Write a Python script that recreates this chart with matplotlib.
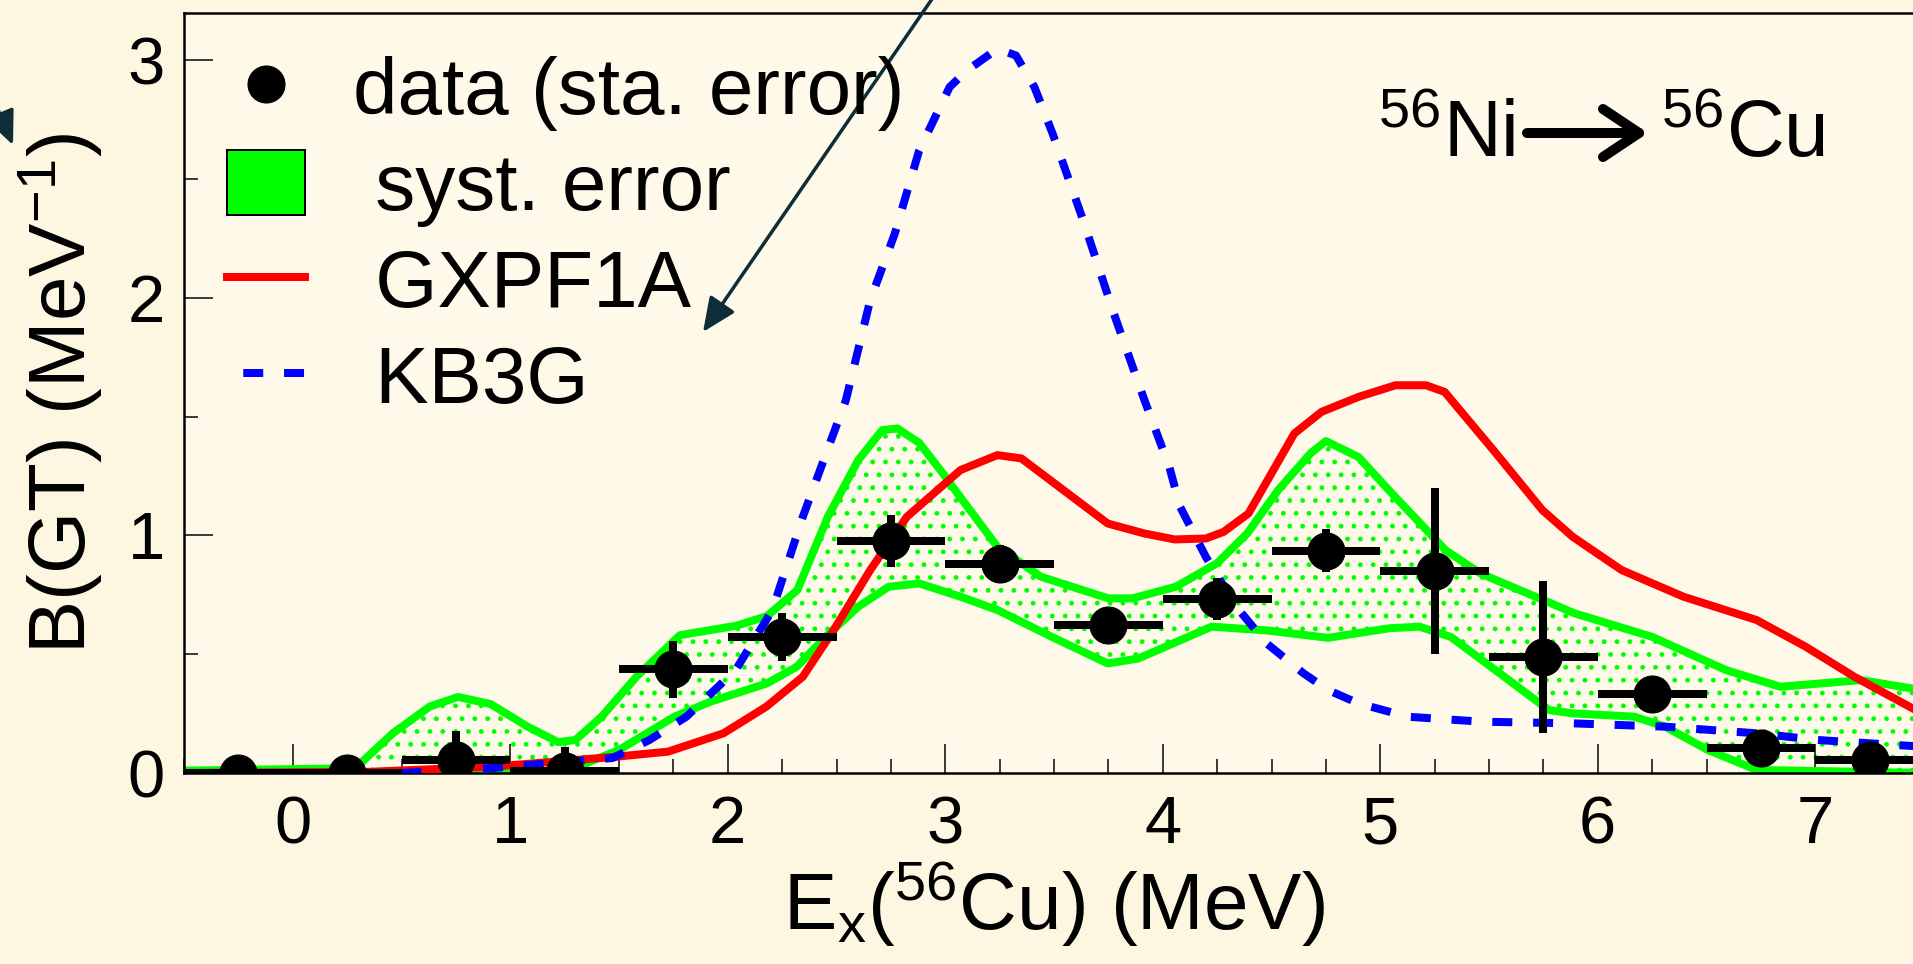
import numpy as np
import matplotlib
matplotlib.use("Agg")
import matplotlib.pyplot as plt
from matplotlib.ticker import MultipleLocator
from matplotlib.lines import Line2D
from matplotlib.patches import Patch

# === DATOS ===
# puntos experimentales B(GT) por bin de 0.5 MeV
data_x = [-0.25, 0.25, 0.75, 1.25, 1.75, 2.25, 2.75, 3.25, 3.75, 4.25, 4.75, 5.25, 5.75, 6.25, 6.75, 7.25]
data_y = [0.0, 0.0, 0.055, 0.01, 0.437, 0.573, 0.977, 0.878, 0.623, 0.732, 0.935, 0.85, 0.487, 0.331, 0.104, 0.055]
data_yerr = [0.0, 0.0, 0.12, 0.1, 0.12, 0.1, 0.11, 0.08, 0.03, 0.09, 0.09, 0.35, 0.32, 0.03, 0.03, 0.02]
data_xerr = [0.25] * len(data_x)

# banda de error sistematico (borde superior / inferior)
syst_up_x = [-0.5, 0.3, 0.32, 0.46, 0.63, 0.76, 0.91, 1.08, 1.22, 1.30, 1.42, 1.58, 1.78, 2.04, 2.18,
             2.32, 2.46, 2.60, 2.71, 2.78, 2.88, 2.99, 3.07, 3.24, 3.44, 3.75, 3.86, 4.06, 4.25, 4.39,
             4.53, 4.68, 4.75, 4.90, 5.04, 5.30, 5.46, 5.75, 5.89, 6.25, 6.59, 6.84, 7.21, 7.49]
syst_up_y = [0.01, 0.02, 0.048, 0.167, 0.28, 0.32, 0.29, 0.195, 0.13, 0.139, 0.237, 0.405, 0.58, 0.62, 0.66,
             0.77, 1.078, 1.317, 1.443, 1.45, 1.39, 1.26, 1.16, 0.952, 0.826, 0.735, 0.735, 0.784, 0.883, 1.01,
             1.19, 1.346, 1.397, 1.33, 1.19, 0.938, 0.84, 0.728, 0.673, 0.573, 0.433, 0.363, 0.391, 0.349]
syst_lo_x = [-0.5, 1.25, 1.33, 1.50, 1.755, 1.92, 2.18, 2.317, 2.458, 2.60, 2.74, 2.88, 3.07, 3.24, 3.49,
             3.747, 3.888, 4.225, 4.478, 4.76, 5.04, 5.18, 5.324, 5.55, 5.775, 5.885, 6.168, 6.31, 6.506,
             6.73, 7.49]
syst_lo_y = [0.0, 0.0, 0.034, 0.097, 0.237, 0.30, 0.377, 0.447, 0.58, 0.70, 0.784, 0.798, 0.742, 0.686, 0.573,
             0.461, 0.482, 0.616, 0.60, 0.569, 0.609, 0.616, 0.573, 0.419, 0.265, 0.251, 0.237, 0.195, 0.097,
             0.013, 0.0]

# calculo de modelo de capas GXPF1A
gx_x = [-0.5, 0.35, 0.91, 1.47, 1.726, 1.98, 2.177, 2.345, 2.486, 2.655, 2.823, 3.07, 3.24, 3.35, 3.747,
        3.916, 4.055, 4.198, 4.28, 4.394, 4.605, 4.73, 4.90, 5.07, 5.21, 5.296, 5.52, 5.746, 5.885, 6.11,
        6.394, 6.73, 6.957, 7.18, 7.49]
gx_y = [0.0, 0.005, 0.026, 0.067, 0.09, 0.167, 0.279, 0.405, 0.60, 0.854, 1.078, 1.275, 1.338, 1.324, 1.05,
        1.008, 0.983, 0.987, 1.015, 1.092, 1.429, 1.52, 1.583, 1.632, 1.632, 1.604, 1.359, 1.106, 0.994, 0.854,
        0.742, 0.644, 0.531, 0.405, 0.251]

# calculo KB3G
kb_x = [0.5, 0.91, 1.47, 1.64, 1.81, 2.036, 2.205, 2.345, 2.458, 2.543, 2.655, 2.768, 2.88, 3.02, 3.10,
        3.24, 3.325, 3.41, 3.494, 3.634, 3.775, 3.916, 4.03, 4.08, 4.198, 4.338, 4.478, 4.648, 4.76, 4.90,
        5.126, 5.464, 5.885, 6.31, 6.73, 7.01, 7.49]
kb_y = [0.0, 0.02, 0.063, 0.139, 0.237, 0.433, 0.686, 1.078, 1.359, 1.569, 1.99, 2.27, 2.62, 2.887, 2.957,
        3.048, 3.02, 2.887, 2.69, 2.326, 1.934, 1.569, 1.289, 1.12, 0.91, 0.70, 0.545, 0.419, 0.349, 0.293,
        0.237, 0.216, 0.209, 0.195, 0.167, 0.139, 0.111]

x_ticks = [0, 1, 2, 3, 4, 5, 6, 7]
y_ticks = [0, 1, 2, 3]

# === ESTILO ===
DPI = 77
P = 72.0 / DPI  # pixeles -> puntos
W, H = 1913, 964
BG_FIG = "#fdf6e1"
BG_AX = "#fef9e8"
GREEN = "#00ff00"
ARROW_C = "#0d2d38"

plt.rcParams["font.family"] = ["Liberation Sans", "DejaVu Sans"]
plt.rcParams["mathtext.fontset"] = "custom"
plt.rcParams["mathtext.rm"] = "Liberation Sans"
plt.rcParams["mathtext.it"] = "Liberation Sans:italic"
plt.rcParams["mathtext.bf"] = "Liberation Sans:bold"
plt.rcParams["hatch.linewidth"] = 2.2 * P

fig = plt.figure(figsize=(W / DPI, H / DPI), dpi=DPI, facecolor=BG_FIG)
ax = fig.add_axes([184 / W, 191 / H, 1740 / W, 760.3 / H])
ax.set_facecolor(BG_AX)

# banda sistematica
band_x = np.concatenate([syst_up_x, syst_lo_x[::-1]])
band_y = np.concatenate([syst_up_y, syst_lo_y[::-1]])
ax.fill(band_x, band_y, facecolor="none", edgecolor=GREEN, hatch=".", linewidth=0, zorder=1)
ax.plot(syst_up_x, syst_up_y, color=GREEN, lw=8 * P, zorder=2)
ax.plot(syst_lo_x, syst_lo_y, color=GREEN, lw=8 * P, zorder=2)

ax.plot(gx_x, gx_y, color="#ff0000", lw=8 * P, zorder=3)
ax.plot(kb_x, kb_y, color="#0000ff", lw=8 * P, ls=(0, (2.5, 2.6)), zorder=3)

ax.errorbar(data_x, data_y, xerr=data_xerr, yerr=data_yerr, fmt="o", color="black",
            ms=37 * P, elinewidth=8 * P, capsize=0, zorder=5)

ax.set_xlim(-0.5, 7.5)
ax.set_ylim(0, 3.2)
ax.set_xticks(x_ticks)
ax.set_yticks(y_ticks)
ax.xaxis.set_minor_locator(MultipleLocator(0.25))
ax.yaxis.set_minor_locator(MultipleLocator(0.5))
ax.tick_params(which="both", direction="in", top=False, right=False, width=1.5 * P)
ax.tick_params(which="major", length=29 * P)
ax.tick_params(which="minor", length=14 * P)
ax.tick_params(axis="x", labelsize=67 * P, pad=22 * P)
ax.tick_params(axis="y", labelsize=67 * P, pad=19 * P)
for s in ax.spines.values():
    s.set_linewidth(2.5 * P)
ax.spines["right"].set_visible(False)

ax.set_xlabel(r"E$_\mathrm{x}$($^\mathrm{56}$Cu) (MeV)", fontsize=80 * P)
ax.xaxis.set_label_coords(0.5, -0.113)
ax.set_ylabel(r"B(GT) (MeV$^\mathrm{-1}$)", fontsize=80 * P)
ax.yaxis.set_label_coords(-0.0455, 0.5)

# leyenda
handles = [
    Line2D([], [], marker="o", ms=37 * P, color="black", ls="none"),
    Patch(facecolor=GREEN, edgecolor="black", lw=2 * P),
    Line2D([], [], color="#ff0000", lw=8 * P),
    Line2D([], [], color="#0000ff", lw=8 * P, ls=(3.07, (2.5, 2.6))),
]
labels = ["data (sta. error)", " syst. error", " GXPF1A", " KB3G"]
ax.legend(handles, labels, loc="upper left", bbox_to_anchor=(0.0245, 0.946), frameon=False,
          fontsize=80 * P, handlelength=0.975, handleheight=0.875, handletextpad=0.6,
          labelspacing=0.24, borderpad=0, borderaxespad=0)

# reaccion
fig.text(1378 / W, 1 - 157 / H, r"$^\mathrm{56}$Ni", fontsize=80 * P, va="baseline", ha="left")
fig.text(1661 / W, 1 - 157 / H, r"$^\mathrm{56}$Cu", fontsize=80 * P, va="baseline", ha="left")
ax.annotate("", xy=(1648, H - 133), xycoords="figure pixels", xytext=(1527, H - 133),
            textcoords="figure pixels",
            arrowprops=dict(arrowstyle="->,head_length=0.45,head_width=0.3", lw=10 * P,
                            color="black", mutation_scale=80 * P, shrinkA=0, shrinkB=0))

# flechas de anotacion
ax.annotate("", xy=(703, H - 332), xycoords="figure pixels", xytext=(931 + 23, H + 33),
            textcoords="figure pixels", annotation_clip=False,
            arrowprops=dict(arrowstyle="-|>,head_length=0.9,head_width=0.4", lw=3.5 * P,
                            color=ARROW_C, mutation_scale=30, shrinkA=0, shrinkB=0))
ax.annotate("", xy=(13, H - 145), xycoords="figure pixels", xytext=(-40, H - 20),
            textcoords="figure pixels", annotation_clip=False,
            arrowprops=dict(arrowstyle="-|>,head_length=0.9,head_width=0.4", lw=3.5 * P,
                            color=ARROW_C, mutation_scale=30, shrinkA=0, shrinkB=0))

fig.savefig("out.png", dpi=DPI, facecolor=BG_FIG)
